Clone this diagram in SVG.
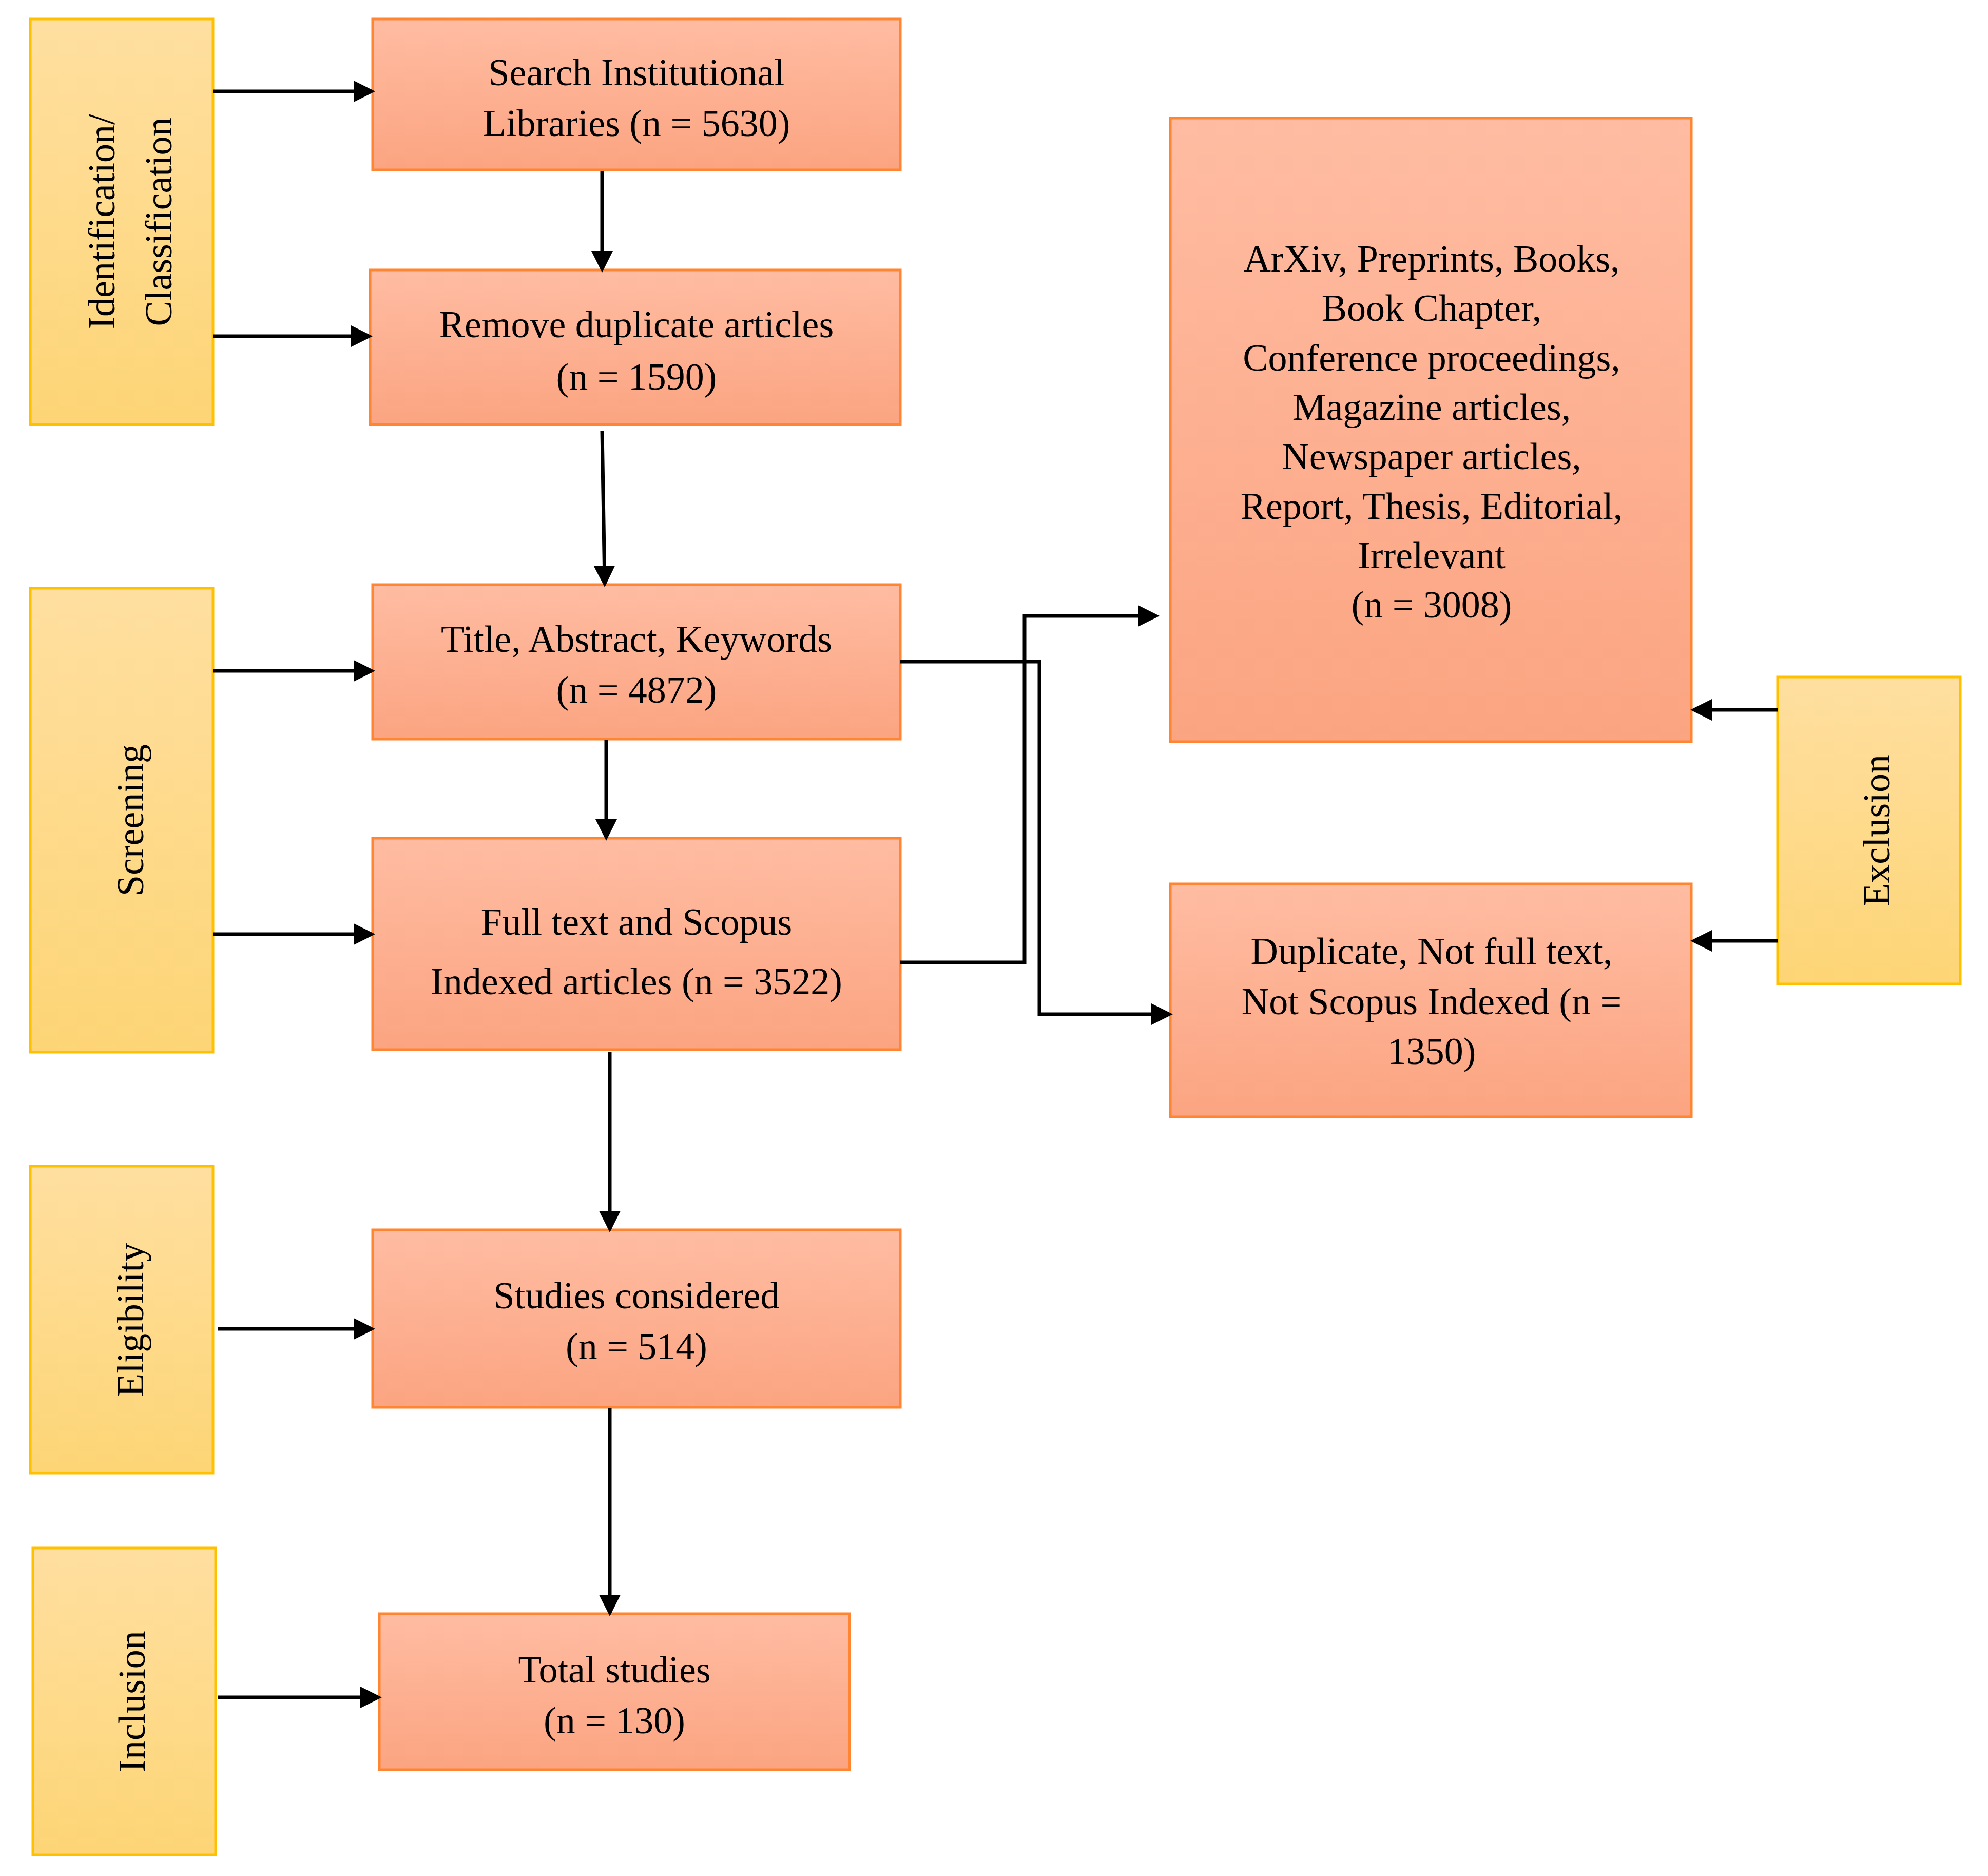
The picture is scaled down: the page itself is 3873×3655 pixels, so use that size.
<svg xmlns="http://www.w3.org/2000/svg" width="3873" height="3655" viewBox="0 0 3873 3655">
<defs>
<linearGradient id="go" x1="0" y1="0" x2="0" y2="1"><stop offset="0" stop-color="#FFBCA2"/><stop offset="1" stop-color="#FBA481"/></linearGradient>
<linearGradient id="gy" x1="0" y1="0" x2="0" y2="1"><stop offset="0" stop-color="#FFDFA0"/><stop offset="1" stop-color="#FDD576"/></linearGradient>
<marker id="ah" markerWidth="6" markerHeight="6" refX="5" refY="3" orient="auto" markerUnits="strokeWidth"><path d="M0,0 L6,3 L0,6 z" fill="#000"/></marker>
</defs>
<style>
.o{fill:url(#go);stroke:#FF8533;stroke-width:5}
.y{fill:url(#gy);stroke:#FFC000;stroke-width:5}
text{font-family:"Liberation Serif","Times New Roman",serif;font-size:74px;fill:#000;text-anchor:middle;dominant-baseline:central}
.c path{fill:none;stroke:#000;stroke-width:7;marker-end:url(#ah)}
</style>
<rect width="3873" height="3655" fill="#fff"/>
<g id="ident"><rect class="y" x="59" y="37" width="356" height="790"/><text transform="translate(198,432) rotate(-90)">Identification/</text><text transform="translate(309,432) rotate(-90)">Classification</text></g>
<g id="screening"><rect class="y" x="59" y="1146" width="356" height="904"/><text transform="translate(254,1598) rotate(-90)">Screening</text></g>
<g id="eligibility"><rect class="y" x="59" y="2272" width="356" height="598"/><text transform="translate(254,2571) rotate(-90)">Eligibility</text></g>
<g id="inclusion"><rect class="y" x="64" y="3016" width="356" height="598"/><text transform="translate(257,3315) rotate(-90)">Inclusion</text></g>
<g id="exclusion"><rect class="y" x="3463" y="1319" width="356" height="598"/><text transform="translate(3656,1618) rotate(-90)">Exclusion</text></g>
<g id="search"><rect class="o" x="726" y="37" width="1028" height="294"/><text x="1240" y="141">Search Institutional</text><text x="1240" y="240">Libraries (n = 5630)</text></g>
<g id="remove"><rect class="o" x="721" y="526" width="1033" height="301"/><text x="1240" y="632">Remove duplicate articles</text><text x="1240" y="734">(n = 1590)</text></g>
<g id="title"><rect class="o" x="726" y="1139" width="1028" height="301"/><text x="1240" y="1245">Title, Abstract, Keywords</text><text x="1240" y="1344">(n = 4872)</text></g>
<g id="fulltext"><rect class="o" x="726" y="1633" width="1028" height="412"/><text x="1240" y="1796">Full text and Scopus</text><text x="1240" y="1912">Indexed articles (n = 3522)</text></g>
<g id="studies"><rect class="o" x="726" y="2396" width="1028" height="346"/><text x="1240" y="2524">Studies considered</text><text x="1240" y="2623">(n = 514)</text></g>
<g id="total"><rect class="o" x="739" y="3144" width="916" height="304"/><text x="1197" y="3253">Total studies</text><text x="1197" y="3352">(n = 130)</text></g>
<g id="arxiv"><rect class="o" x="2280" y="230" width="1015" height="1215"/>
<text x="2789" y="504">ArXiv, Preprints, Books,</text><text x="2789" y="600">Book Chapter,</text><text x="2789" y="697">Conference proceedings,</text><text x="2789" y="793">Magazine articles,</text><text x="2789" y="889">Newspaper articles,</text><text x="2789" y="986">Report, Thesis, Editorial,</text><text x="2789" y="1082">Irrelevant</text><text x="2789" y="1178">(n = 3008)</text></g>
<g id="duplicate"><rect class="o" x="2280" y="1722" width="1015" height="454"/><text x="2789" y="1853">Duplicate, Not full text,</text><text x="2789" y="1951">Not Scopus Indexed (n =</text><text x="2789" y="2048">1350)</text></g>
<g class="c" id="connectors">
<path d="M415,178 H724"/>
<path d="M415,655 H719"/>
<path d="M1173,333 V524"/>
<path d="M1173,840 L1178,1137"/>
<path d="M415,1307 H724"/>
<path d="M1181,1442 V1631"/>
<path d="M415,1820 H724"/>
<path d="M1188,2050 V2394"/>
<path d="M425,2589 H724"/>
<path d="M1188,2744 V3142"/>
<path d="M425,3307 H737"/>
<path d="M1754,1875 H1996 V1200 H2252"/>
<path d="M1754,1289 H2025 V1976 H2278"/>
<path d="M3463,1383 H3300"/>
<path d="M3463,1833 H3300"/>
</g>
</svg>
